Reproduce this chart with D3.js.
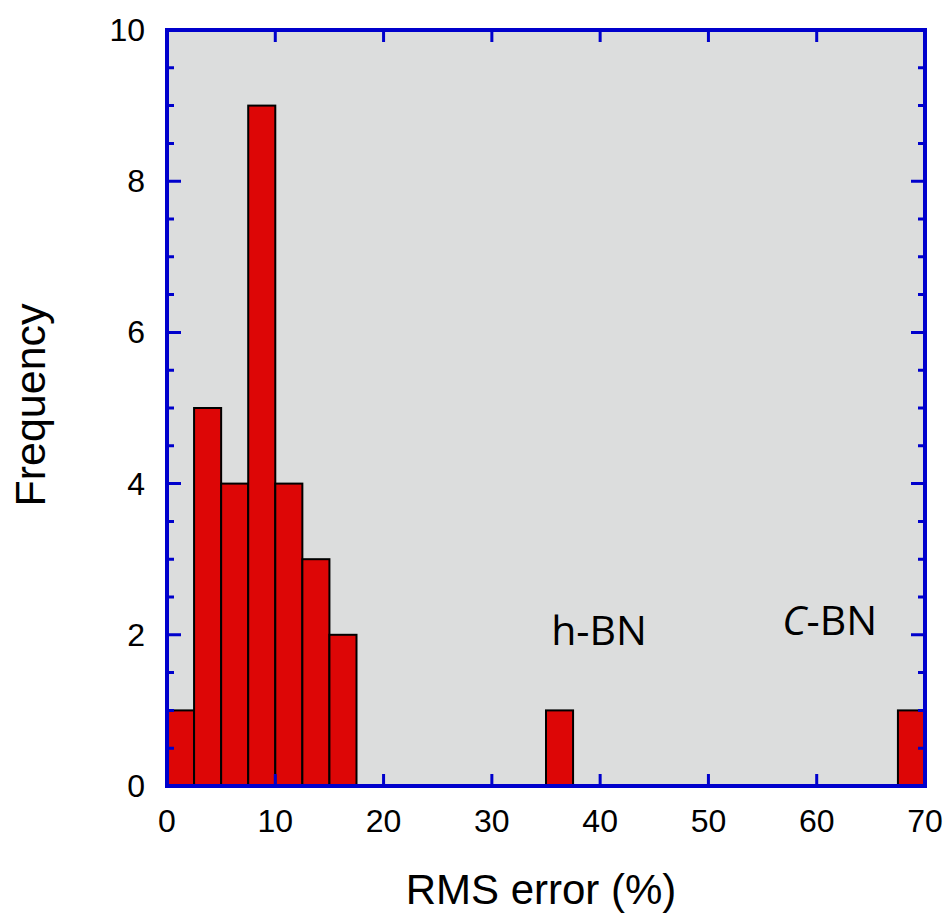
<!DOCTYPE html>
<html lang="en">
<head>
    <meta charset="UTF-8">
    <title>RMS error histogram</title>
    <script src="https://d3js.org/d3.v7.min.js"></script>
    <style>
        body { margin: 0; background: #fff; }
    </style>
</head>
<body>
    <script>
        // histogram bins (left edge, %), bin width 2.5
        const binStarts = [0, 2.5, 5, 7.5, 10, 12.5, 15, 35, 67.5];
        const counts = [1, 5, 4, 9, 4, 3, 2, 1, 1];
        const binWidth = 2.5;
        const xTicks = [0, 10, 20, 30, 40, 50, 60, 70];
        const yTicks = [0, 2, 4, 6, 8, 10];
        const notes = [
            { x: 39.9, y: 1.87, italic: "", rest: "h-BN" },
            { x: 61.2, y: 2.0, italic: "C", rest: "-BN" }
        ];

        const margin = { top: 30, right: 25, bottom: 133, left: 167 };
        const W = 950, H = 919;
        const width = W - margin.left - margin.right;
        const height = H - margin.top - margin.bottom;
        const blue = "#0000cc";

        const svg = d3.select("body").append("svg")
            .attr("width", W)
            .attr("height", H);

        const g = svg.append("g")
            .attr("transform", `translate(${margin.left},${margin.top})`);

        const x = d3.scaleLinear().domain([0, 70]).range([0, width]);
        const y = d3.scaleLinear().domain([0, 10]).range([height, 0]);

        g.append("rect")
            .attr("width", width)
            .attr("height", height)
            .attr("fill", "#dcdddd");

        const bins = binStarts.map((s, i) => ({ x0: s, x1: s + binWidth, n: counts[i] }));

        g.selectAll(".bar")
            .data(bins)
            .enter()
            .append("rect")
            .attr("class", "bar")
            .attr("x", d => x(d.x0))
            .attr("y", d => y(d.n))
            .attr("width", d => x(d.x1) - x(d.x0))
            .attr("height", d => y(0) - y(d.n))
            .attr("fill", "#dd0606")
            .attr("stroke", "#000")
            .attr("stroke-width", 2);

        // minor y ticks every 0.5, major every 2 (inward, both sides)
        const yMinor = d3.range(0, 10.01, 0.5);
        g.selectAll(".yt")
            .data(yMinor)
            .enter()
            .append("path")
            .attr("d", d => {
                const len = d % 2 === 0 ? 14 : 7;
                return `M0,${y(d)}h${len}M${width},${y(d)}h${-len}`;
            })
            .attr("stroke", blue)
            .attr("stroke-width", 3);

        g.selectAll(".xt")
            .data(xTicks)
            .enter()
            .append("path")
            .attr("d", d => `M${x(d)},${height}v-12M${x(d)},0v12`)
            .attr("stroke", blue)
            .attr("stroke-width", 3);

        g.append("rect")
            .attr("width", width)
            .attr("height", height)
            .attr("fill", "none")
            .attr("stroke", blue)
            .attr("stroke-width", 4);

        const font = "'Liberation Sans', Arial, sans-serif";

        g.selectAll(".xl")
            .data(xTicks)
            .enter()
            .append("text")
            .attr("x", d => x(d))
            .attr("y", height + 46)
            .attr("text-anchor", "middle")
            .style("font-family", font)
            .style("font-size", "32px")
            .text(d => d);

        g.selectAll(".yl")
            .data(yTicks)
            .enter()
            .append("text")
            .attr("x", -22)
            .attr("y", d => y(d) + 11)
            .attr("text-anchor", "end")
            .style("font-family", font)
            .style("font-size", "32px")
            .text(d => d);

        g.append("text")
            .attr("x", 374)
            .attr("y", height + 118)
            .attr("text-anchor", "middle")
            .style("font-family", font)
            .style("font-size", "42px")
            .text("RMS error (%)");

        g.append("text")
            .attr("transform", `translate(-122,${405 - margin.top}) rotate(-90)`)
            .attr("text-anchor", "middle")
            .style("font-family", font)
            .style("font-size", "43px")
            .text("Frequency");

        const nt = g.selectAll(".note")
            .data(notes)
            .enter()
            .append("text")
            .attr("x", d => x(d.x))
            .attr("y", d => y(d.y))
            .attr("text-anchor", "middle")
            .style("font-family", "'Open Sans', 'Noto Sans', sans-serif")
            .style("font-size", "41px");
        nt.append("tspan").style("font-style", "italic").text(d => d.italic);
        nt.append("tspan").text(d => d.rest);
    </script>
</body>
</html>
